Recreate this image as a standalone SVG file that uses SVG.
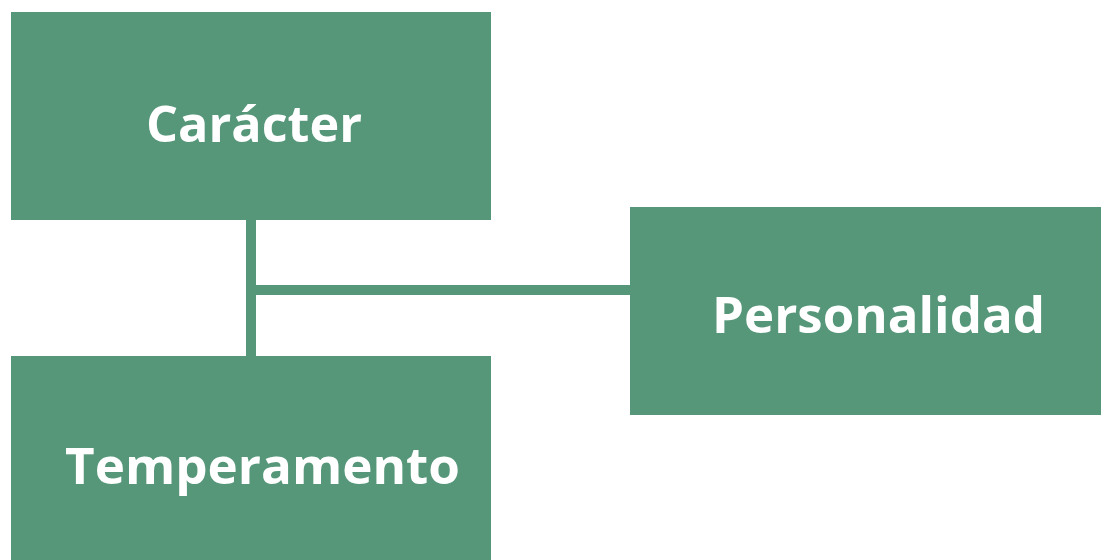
<svg xmlns="http://www.w3.org/2000/svg" width="1101" height="560" viewBox="0 0 1101 560">
<style>
.box{fill:#56977a}
.lbl{fill:#ffffff;font-family:"Open Sans","Noto Sans",sans-serif;font-weight:bold;font-size:50px}
.conn{stroke:#56977a;stroke-width:10;fill:none}
</style>
<rect width="1101" height="560" fill="#ffffff"/>
<g id="connectors">
<line class="conn" x1="251" y1="219" x2="251" y2="357"/>
<line class="conn" x1="251" y1="290" x2="631" y2="290"/>
</g>
<g id="caracter">
<rect class="box" x="11" y="12" width="480" height="208"/>
<text class="lbl" x="146" y="142" textLength="216" lengthAdjust="spacingAndGlyphs">Carácter</text>
</g>
<g id="personalidad">
<rect class="box" x="630" y="207" width="471" height="208"/>
<text class="lbl" x="712" y="333" textLength="333" lengthAdjust="spacingAndGlyphs">Personalidad</text>
</g>
<g id="temperamento">
<rect class="box" x="11" y="356" width="480" height="204"/>
<text class="lbl" x="65" y="484" textLength="395" lengthAdjust="spacingAndGlyphs">Temperamento</text>
</g>
</svg>
